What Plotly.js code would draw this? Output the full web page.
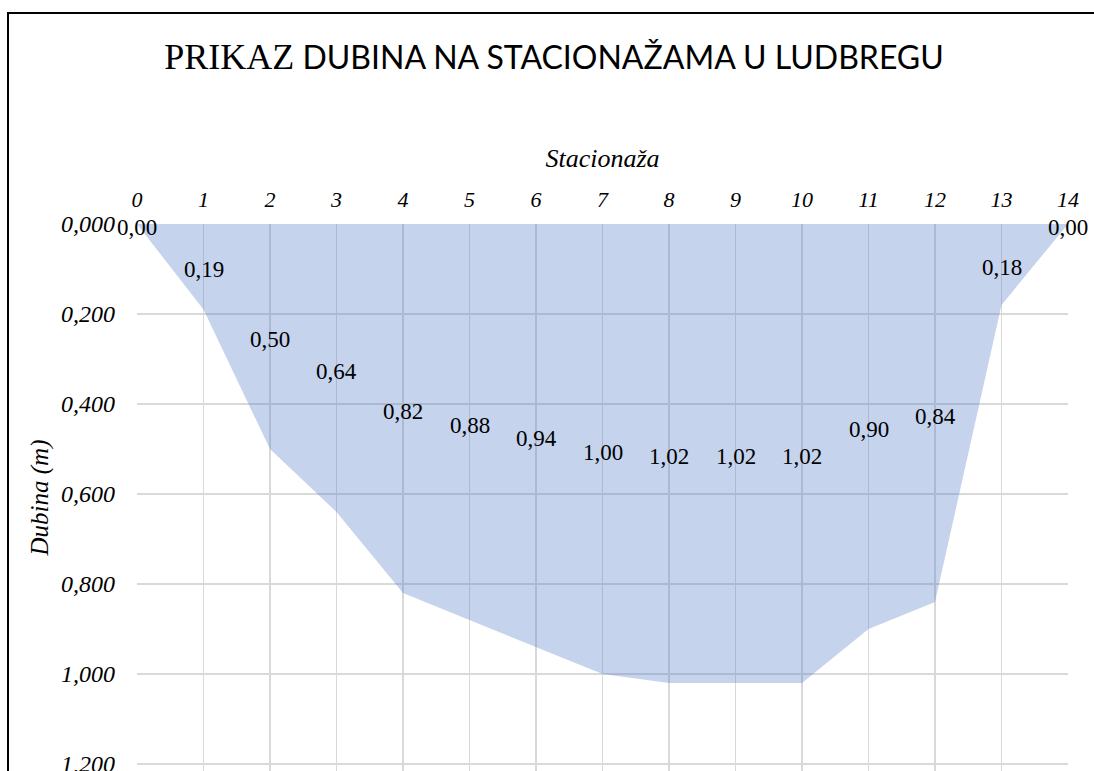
<!DOCTYPE html>
<html>
<head>
<meta charset="utf-8">
<script src="https://cdn.plot.ly/plotly-3.0.1.min.js"></script>
<style>
  html, body { margin: 0; padding: 0; background: #fff; }
  #chart { width: 1094px; height: 771px; }
</style>
</head>
<body>
<div id="chart"></div>
<script>
// Data
const stations = [0, 1, 2, 3, 4, 5, 6, 7, 8, 9, 10, 11, 12, 13, 14];
const depths = [0.00, 0.19, 0.50, 0.64, 0.82, 0.88, 0.94, 1.00, 1.02, 1.02, 1.02, 0.90, 0.84, 0.18, 0.00];
const yTicks = [0, 0.2, 0.4, 0.6, 0.8, 1.0, 1.2];
const titleMain = "PRIKAZ";
const titleRest = "DUBINA NA STACIONAŽAMA U LUDBREGU";
const xTitle = "Stacionaža";
const yTitle = "Dubina (m)";

const serif = "Liberation Serif, Times New Roman, serif";
const fmt2 = v => v.toFixed(2).replace('.', ',');

const area = {
  x: stations,
  y: depths,
  type: 'scatter',
  mode: 'lines',
  fill: 'tozeroy',
  fillcolor: 'rgba(68,114,196,0.31)',
  line: { width: 0, color: 'rgba(68,114,196,0)' },
  hoverinfo: 'skip',
  showlegend: false
};

// data labels: centred in the filled depth, like Excel area-chart labels
const labelAnnotations = stations.map((s, i) => ({
  x: s,
  y: depths[i] / 2,
  xref: 'x', yref: 'y',
  text: fmt2(depths[i]),
  showarrow: false,
  xanchor: 'center', yanchor: 'middle',
  yshift: -3,
  font: { family: serif, size: 23, color: '#000' }
}));

// plot area: top 224px, bottom at the page edge (771px); 450 px per metre
const layout = {
  width: 1094,
  height: 771,
  paper_bgcolor: '#fff',
  plot_bgcolor: '#fff',
  separators: ',.',
  margin: { l: 137, r: 26, t: 224, b: 0 },
  title: {
    text: '<span style="font-size:36px"><span style="font-family:Liberation Serif">' + titleMain + '</span></span> ' + titleRest,
    font: { family: 'Lato, Liberation Sans, sans-serif', size: 32, color: '#000' },
    xref: 'container', yref: 'container',
    x: 554 / 1094, xanchor: 'center',
    y: 1 - 58 / 771, yanchor: 'middle'
  },
  xaxis: {
    side: 'top',
    range: [0, 14],
    tickmode: 'array',
    tickvals: stations,
    ticktext: stations.map(String),
    showgrid: true,
    gridcolor: '#d9d9d9',
    gridwidth: 1.3,
    zeroline: false,
    showline: false,
    ticks: '',
    ticklabelstandoff: 12,
    tickfont: { family: serif, size: 22, color: '#000', style: 'italic' },
    title: { text: xTitle, font: { family: serif, size: 26, color: '#000', style: 'italic' }, standoff: 11 },
    fixedrange: true
  },
  yaxis: {
    range: [547 / 450, 0],
    tickmode: 'array',
    tickvals: yTicks,
    ticktext: yTicks.map(v => v.toFixed(3).replace('.', ',')),
    ticklabeloverflow: 'allow',
    showgrid: true,
    gridcolor: '#d9d9d9',
    gridwidth: 1.3,
    zeroline: false,
    showline: false,
    ticks: '',
    ticklabelstandoff: 21,
    tickfont: { family: serif, size: 24, color: '#000', style: 'italic' },
    title: { text: yTitle, font: { family: serif, size: 25, color: '#000', style: 'italic' }, standoff: 5 },
    fixedrange: true
  },
  annotations: labelAnnotations,
  shapes: [{
    type: 'rect', xref: 'paper', yref: 'paper', layer: 'above',
    x0: (8 - 137) / 931, x1: (1200 - 137) / 931,
    y0: (771 - 900) / 547, y1: (771 - 13) / 547,
    line: { color: '#000', width: 2 }, fillcolor: 'rgba(0,0,0,0)'
  }]
};

Plotly.newPlot('chart', [area], layout, { displayModeBar: false, staticPlot: true });
</script>
</body>
</html>
